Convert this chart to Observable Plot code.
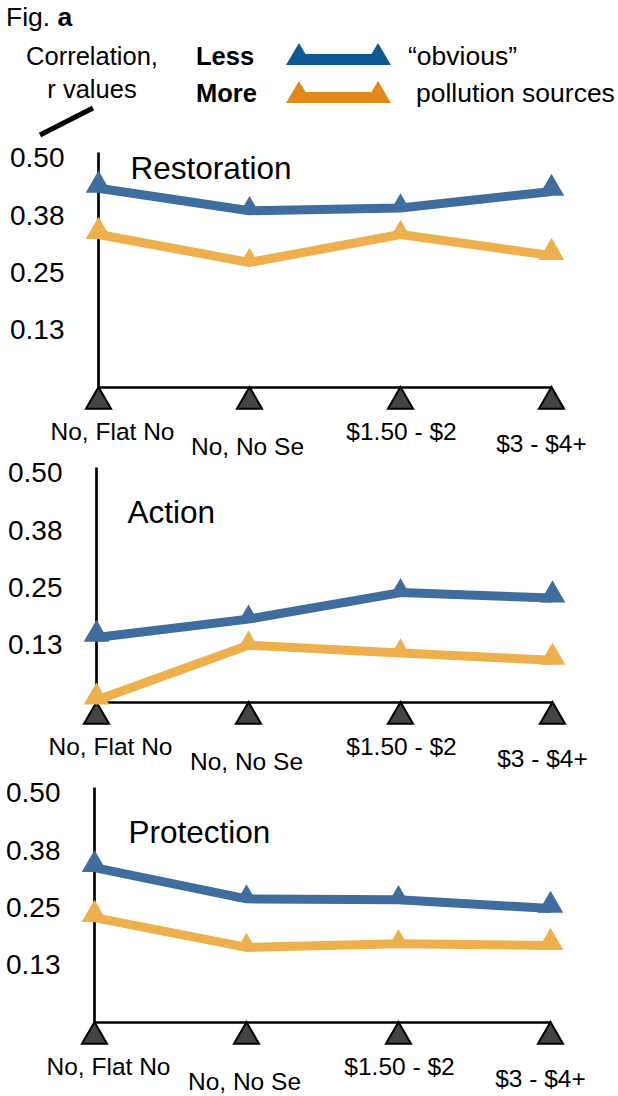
<!DOCTYPE html>
<html>
<head>
<meta charset="utf-8">
<script src="https://cdn.jsdelivr.net/npm/d3@7"></script>
<script src="https://cdn.jsdelivr.net/npm/@observablehq/plot@0.6"></script>
<style>
  html, body { margin: 0; padding: 0; background: #fff; }
  #root { position: relative; width: 618px; height: 1096px; font-family: "Liberation Sans", Arial, Helvetica, sans-serif; color: #000; }
  .panel { position: absolute; left: 0; }
  .panel svg { overflow: visible; background: transparent !important; }
  #header { position: absolute; left: 0; top: 0; }
</style>
</head>
<body>
<div id="root">
  <svg id="header" width="618" height="140" font-family="Liberation Sans, Arial, Helvetica, sans-serif">
    <text x="6" y="26" font-size="26.5">Fig. <tspan font-weight="bold">a</tspan></text>
    <text x="92" y="65" font-size="25.5" text-anchor="middle">Correlation,</text>
    <text x="92" y="98" font-size="25.5" text-anchor="middle">r values</text>
    <line x1="40" y1="135" x2="93" y2="108" stroke="#000" stroke-width="5"/>
    <text x="196" y="65" font-size="25.5" font-weight="bold">Less</text>
    <text x="196" y="102" font-size="25.5" font-weight="bold">More</text>
    <g id="legendSwatches"></g>
    <text x="408" y="65" font-size="26.5">“obvious”</text>
    <text x="416" y="102" font-size="26.5">pollution sources</text>
  </svg>
</div>
<script>
// ---- data ----
const categories = ["No, Flat No", "No, No Se", "$1.50 - $2", "$3 - $4+"];
const seriesNames = ["Less", "More"];
const seriesColors = ["#3e6d9e", "#edb04c"];
const legendColors = ["#0f5898", "#e2881b"];
const yTicks = [0.125, 0.25, 0.375, 0.5];
const yTickLabels = ["0.13", "0.25", "0.38", "0.50"];
const panelTitles = ["Restoration", "Action", "Protection"];

const restorationLess = [0.435, 0.386, 0.392, 0.428];
const restorationMore = [0.334, 0.273, 0.334, 0.288];
const actionLess = [0.142, 0.182, 0.240, 0.228];
const actionMore = [0.005, 0.125, 0.108, 0.092];
const protectionLess = [0.338, 0.270, 0.268, 0.249];
const protectionMore = [0.229, 0.164, 0.172, 0.168];

// ---- legend swatches (header) ----
const sw = document.getElementById("legendSwatches");
const ns = "http://www.w3.org/2000/svg";
[65, 103].forEach((base, k) => {
  const c = legendColors[k];
  const rect = document.createElementNS(ns, "rect");
  rect.setAttribute("x", 296); rect.setAttribute("y", base - 11);
  rect.setAttribute("width", 84); rect.setAttribute("height", 11);
  rect.setAttribute("fill", c); sw.appendChild(rect);
  [[286, 299, 312], [365, 378, 391]].forEach(([a, m, b]) => {
    const p = document.createElementNS(ns, "polygon");
    p.setAttribute("points", `${a},${base} ${m},${base - 22} ${b},${base}`);
    p.setAttribute("fill", c); sw.appendChild(p);
  });
});

// ---- panels ----
function panel(title, less, more, left, right, titleDx, titleDy) {
  const rows = [];
  categories.forEach((c, i) => {
    rows.push({cat: c, series: seriesNames[0], r: less[i], i});
    rows.push({cat: c, series: seriesNames[1], r: more[i], i});
  });
  const last = categories.length - 1;
  const ends = rows.filter(d => d.i === 0 || d.i === last);
  const mids = rows.filter(d => d.i !== 0 && d.i !== last);
  const labelMarks = categories.map((c, i) => Plot.text([c], {
    x: d => d, y: () => 0, text: d => d,
    dx: i === 0 ? 14 : i === last ? -10 : (i === 2 ? 1 : -2),
    dy: i === last ? 64 : (i % 2 ? 67 : 52),
    textAnchor: "middle", lineAnchor: "bottom", fontSize: 24.5, fill: "#000"
  }));
  return Plot.plot({
    width: 618, height: 320,
    marginTop: 18, marginBottom: 73, marginLeft: left, marginRight: 618 - right,
    style: {fontFamily: "Liberation Sans, Arial, Helvetica, sans-serif", color: "#000", background: "transparent", overflow: "visible"},
    x: {type: "point", domain: categories, padding: 0, axis: null},
    y: {domain: [0, 0.5]},
    color: {domain: seriesNames, range: seriesColors},
    marks: [
      Plot.axisY({ticks: yTicks, tickFormat: d => yTickLabels[yTicks.indexOf(d)], tickSize: 0, tickPadding: 33, fontSize: 28, label: null, fill: "#000"}),
      Plot.ruleX([categories[0]], {x: d => d, y1: () => 0, y2: () => 0.512, stroke: "#000", strokeWidth: 2.7}),
      Plot.ruleY([0], {x1: () => categories[0], x2: () => categories[last], stroke: "#000", strokeWidth: 2.7}),
      Plot.dot(categories, {x: d => d, y: () => 0, dy: 14, symbol: "triangle", r: 9.3, fill: "#444", stroke: "#000", strokeWidth: 2}),
      ...labelMarks,
      Plot.line(rows, {x: "cat", y: "r", z: "series", stroke: "series", strokeWidth: 9, strokeLinecap: "butt", strokeLinejoin: "miter"}),
      Plot.dot(mids, {x: "cat", y: "r", fill: "series", symbol: "triangle", r: 7.5, dy: -3}),
      Plot.dot(ends, {x: "cat", y: "r", fill: "series", symbol: "triangle", r: 9.5, dy: -3}),
      Plot.text([title], {frameAnchor: "top-left", dx: titleDx, dy: titleDy, text: d => d, fontSize: 31.5, textAnchor: "start", lineAnchor: "bottom", fill: "#000"})
    ]
  });
}

const root = document.getElementById("root");
const specs = [
  {title: panelTitles[0], less: restorationLess, more: restorationMore, left: 97, right: 551, top: 140, dx: 33, dy: 20},
  {title: panelTitles[1], less: actionLess, more: actionMore, left: 95, right: 552, top: 455, dx: 32, dy: 49},
  {title: panelTitles[2], less: protectionLess, more: protectionMore, left: 93, right: 550, top: 775, dx: 35, dy: 49}
];
specs.forEach(s => {
  const div = document.createElement("div");
  div.className = "panel";
  div.style.top = s.top + "px";
  div.appendChild(panel(s.title, s.less, s.more, s.left, s.right, s.dx, s.dy));
  root.appendChild(div);
});
</script>
</body>
</html>
